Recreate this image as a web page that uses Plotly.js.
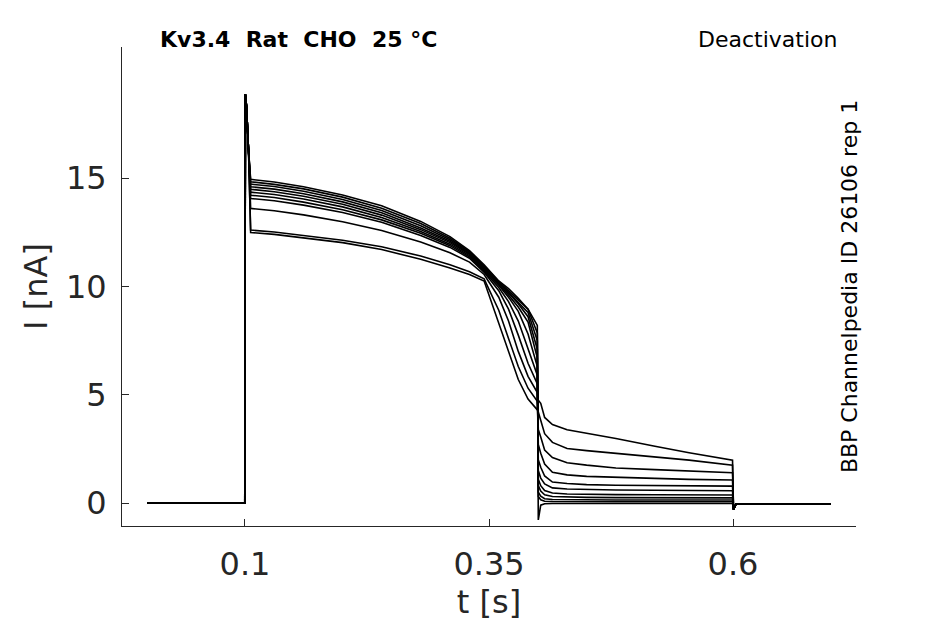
<!DOCTYPE html>
<html>
<head>
<meta charset="utf-8">
<script src="https://cdn.plot.ly/plotly-3.0.1.min.js"></script>
<style>
  html, body { margin: 0; padding: 0; background: #fff; }
  #chart { width: 945px; height: 624px; }
</style>
</head>
<body>
<div id="chart"></div>
<script>
// sample times [s], shared by every sweep
const t = [0, 0.0998, 0.1004, 0.1016, 0.1036,
  0.1058, 0.13, 0.16, 0.2, 0.24, 0.28, 0.31, 0.33, 0.345, 0.36, 0.37, 0.38, 0.39, 0.3995,
  0.4005, 0.403, 0.407, 0.415, 0.43, 0.45, 0.48, 0.52, 0.555, 0.5995,
  0.6005, 0.603, 0.7];

// current [nA] before and at the capacitive spike (same for all sweeps)
const onset = [0, 0, 18.87, 18.3, 16.3];
// current after the tail step returns to holding
const offset = [-0.3, -0.05, -0.05];

// activating step, 0.1058 .. 0.3995 s
const step = [
  [12.49, 12.4, 12.25, 12.02, 11.7, 11.25, 10.85, 10.55, 10.25, 8.3, 6.9, 5.7, 4.8, 4.3],
  [12.6, 12.51, 12.36, 12.13, 11.83, 11.4, 11.0, 10.68, 10.35, 8.9, 7.6, 6.3, 5.3, 4.7],
  [13.6, 13.49, 13.3, 12.98, 12.58, 12.05, 11.55, 11.12, 10.55, 9.5, 8.4, 7.0, 5.85, 5.1],
  [14.06, 13.95, 13.75, 13.41, 12.96, 12.35, 11.8, 11.3, 10.65, 9.8, 8.95, 7.75, 6.45, 5.5],
  [14.21, 14.1, 13.89, 13.54, 13.07, 12.45, 11.88, 11.36, 10.7, 9.95, 9.3, 8.4, 7.1, 5.9],
  [14.35, 14.24, 14.03, 13.67, 13.18, 12.53, 11.95, 11.42, 10.75, 10.05, 9.5, 8.85, 7.8, 6.3],
  [14.48, 14.37, 14.16, 13.79, 13.29, 12.62, 12.02, 11.48, 10.8, 10.1, 9.6, 9.05, 8.35, 6.7],
  [14.6, 14.49, 14.28, 13.9, 13.4, 12.7, 12.08, 11.52, 10.84, 10.15, 9.7, 9.2, 8.6, 7.1],
  [14.72, 14.61, 14.39, 14.01, 13.5, 12.8, 12.15, 11.57, 10.88, 10.2, 9.75, 9.3, 8.8, 7.5],
  [14.83, 14.71, 14.5, 14.12, 13.61, 12.9, 12.22, 11.61, 10.94, 10.22, 9.8, 9.38, 8.95, 7.85],
  [14.94, 14.82, 14.6, 14.22, 13.72, 13.0, 12.3, 11.65, 11.0, 10.25, 9.9, 9.45, 8.95, 8.2]
];

// deactivation tails, 0.4005 .. 0.5995 s
const tail = [
  [4.75, 4.6, 3.95, 3.62, 3.38, 3.22, 2.98, 2.62, 2.32, 1.98],
  [4.2, 3.8, 3.2, 2.8, 2.52, 2.42, 2.3, 2.13, 1.98, 1.75],
  [3.4, 3.05, 2.45, 2.1, 1.86, 1.75, 1.62, 1.54, 1.47, 1.4],
  [2.7, 2.3, 1.8, 1.42, 1.3, 1.23, 1.18, 1.13, 1.09, 1.06],
  [2.0, 1.65, 1.25, 0.97, 0.9, 0.85, 0.82, 0.8, 0.79, 0.78],
  [1.5, 1.15, 0.88, 0.7, 0.65, 0.62, 0.6, 0.59, 0.58, 0.57],
  [1.1, 0.8, 0.58, 0.46, 0.42, 0.4, 0.39, 0.38, 0.37, 0.37],
  [0.8, 0.55, 0.38, 0.3, 0.27, 0.26, 0.25, 0.25, 0.24, 0.24],
  [0.5, 0.32, 0.2, 0.16, 0.15, 0.15, 0.14, 0.14, 0.14, 0.14],
  [0.3, 0.15, 0.08, 0.07, 0.06, 0.06, 0.06, 0.06, 0.06, 0.06],
  [-0.78, -0.1, -0.03, -0.02, -0.02, -0.02, -0.02, -0.02, -0.02, -0.02]
];

const xTicks = [0.1, 0.35, 0.6];
const yTicks = [0, 5, 10, 15];

const traces = step.map((s, i) => ({
  type: 'scatter',
  mode: 'lines',
  x: t,
  y: onset.concat(s, tail[i], offset),
  line: { color: '#000', width: 1.6 },
  hoverinfo: 'skip',
  showlegend: false
}));

const axisColor = '#262626';
const font = { family: 'DejaVu Sans, sans-serif', color: axisColor };

const layout = {
  width: 945, height: 624,
  margin: { l: 122, r: 89, t: 47, b: 98 },
  paper_bgcolor: '#fff', plot_bgcolor: '#fff',
  font: font,
  xaxis: {
    range: [-0.026, 0.726],
    tickvals: xTicks, ticktext: xTicks.map(String),
    ticks: 'inside', ticklen: 7, tickcolor: axisColor,
    showline: true, linecolor: axisColor, linewidth: 1,
    showgrid: false, zeroline: false,
    tickfont: { size: 32, color: axisColor },
    ticklabelstandoff: 10,
    title: { text: 't [s]', font: { size: 32, color: axisColor }, standoff: 8 }
  },
  yaxis: {
    range: [-1.06, 21.05],
    tickvals: yTicks, ticktext: yTicks.map(String),
    ticks: 'inside', ticklen: 7, tickcolor: axisColor,
    showline: true, linecolor: axisColor, linewidth: 1,
    showgrid: false, zeroline: false,
    tickfont: { size: 32, color: axisColor },
    ticklabelstandoff: 8,
    title: { text: 'I [nA]', font: { size: 32, color: axisColor }, standoff: 8 }
  },
  annotations: [
    { xref: 'paper', yref: 'paper', x: 0.24, y: 1.015, xanchor: 'center', yanchor: 'middle',
      text: '<b>Kv3.4  Rat  CHO  25 °C</b>', showarrow: false,
      font: { size: 22, color: '#000' } },
    { xref: 'paper', yref: 'paper', x: 0.977, y: 1.015, xanchor: 'right', yanchor: 'middle',
      text: 'Deactivation', showarrow: false,
      font: { size: 22, color: '#000' } },
    { xref: 'paper', yref: 'paper', x: 0.992, y: 0.499, xanchor: 'center', yanchor: 'middle',
      text: 'BBP Channelpedia ID 26106 rep 1', textangle: -90, showarrow: false,
      font: { size: 22, color: '#000' } }
  ]
};

Plotly.newPlot('chart', traces, layout, { staticPlot: true, displayModeBar: false });
</script>
</body>
</html>
